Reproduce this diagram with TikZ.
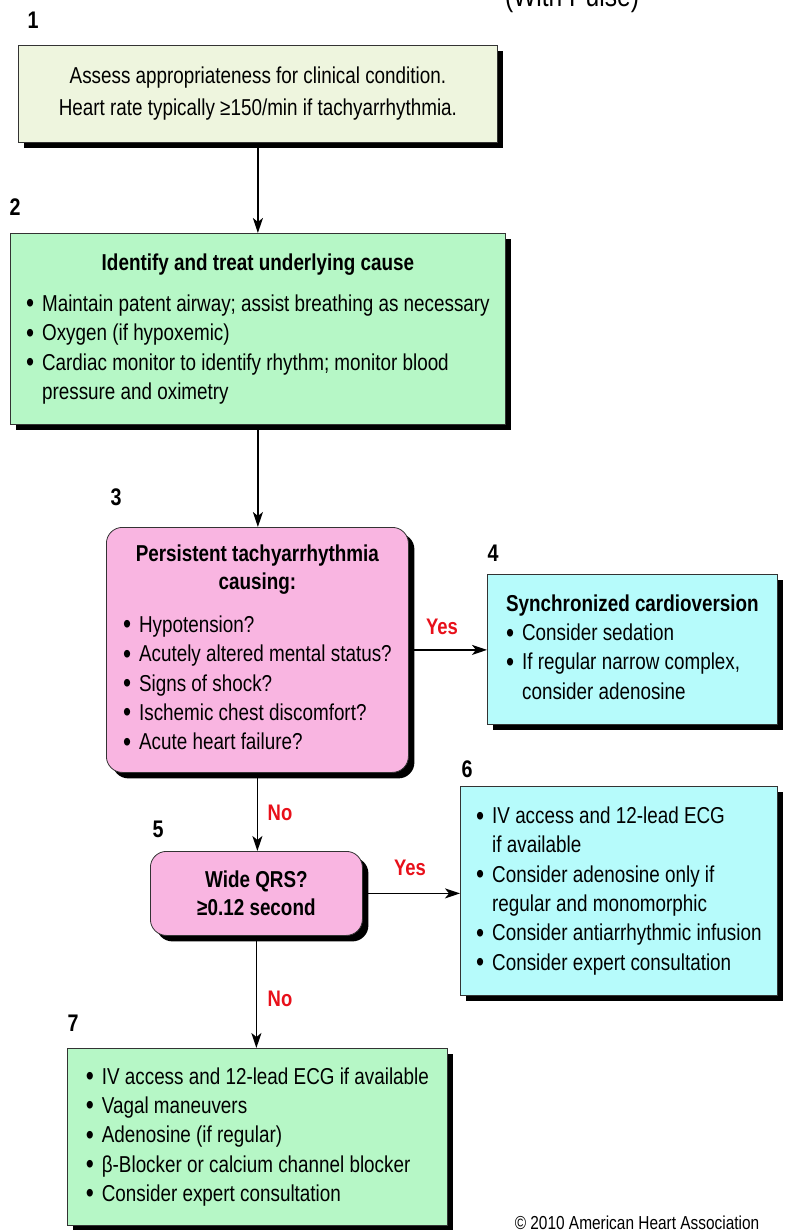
\documentclass[tikz,border=0pt]{standalone}
\usepackage{fontspec}
\setmainfont{Liberation Sans}[FakeStretch=0.82]
\usetikzlibrary{arrows.meta,shadows}
\definecolor{cyellow}{HTML}{EEF5DE}
\definecolor{cgreen}{HTML}{B6F7C6}
\definecolor{cpink}{HTML}{F9B5E1}
\definecolor{ccyan}{HTML}{B6FBFB}
\definecolor{cred}{HTML}{E8101A}
\newcommand\bl{\makebox[16pt][l]{\raisebox{-1.5pt}{\fontsize{28}{28}\selectfont\textbullet}}}
\newcommand\cl{\hspace*{16pt}}
\newcommand\ttl[1]{\multicolumn{1}{@{}c@{}}{\bfseries #1}}
\begin{document}
\begin{tikzpicture}[x=1pt,y=-1pt,
  box/.style={draw=black!80, line width=0.8pt,
    drop shadow={shadow xshift=6pt,shadow yshift=-6pt,opacity=1,fill=black},
    inner xsep=0pt, inner ysep=0pt, anchor=north west,
    font=\fontsize{23}{29.3}\selectfont},
  num/.style={font=\fontsize{24}{26}\selectfont\bfseries},
  lbl/.style={font=\fontsize{22.5}{24}\selectfont\bfseries, text=cred},
  arr/.style={line width=1.8pt, -{Stealth[length=15pt,width=10pt,inset=4pt]}}]
\useasboundingbox (0,0) rectangle (785,1230);

\node[font=\fontsize{30}{32}\selectfont, anchor=base] (title) at (572,7) {(With Pulse)};

\node[num] (n1) at (33,20) {1};
\node[box, fill=cyellow, minimum width=479pt, minimum height=97pt, align=center] (b1) at (18,45)
  {Assess appropriateness for clinical condition.\\[3pt]
   Heart rate typically ≥150/min if tachyarrhythmia.};

\node[num] (n2) at (15,207) {2};
\node[box, fill=cgreen, minimum width=495pt, minimum height=191pt] (b2) at (10,233)
  {\begin{tabular}{@{}l@{}}
   \ttl{Identify and treat underlying cause}\\[12pt]
   \bl Maintain patent airway; assist breathing as necessary\\
   \bl Oxygen (if hypoxemic)\\
   \bl Cardiac monitor to identify rhythm; monitor blood\\
   \cl pressure and oximetry
   \end{tabular}};

\node[num] (n3) at (116,497) {3};
\node[box, fill=cpink, rounded corners=16pt, minimum width=302pt, minimum height=245pt] (b3) at (106,527)
  {\begin{tabular}{@{}l@{}}
   \ttl{Persistent tachyarrhythmia}\\[-2pt]
   \ttl{causing:}\\[14pt]
   \bl Hypotension?\\
   \bl Acutely altered mental status?\\
   \bl Signs of shock?\\
   \bl Ischemic chest discomfort?\\
   \bl Acute heart failure?
   \end{tabular}};

\node[num] (n4) at (493,553) {4};
\node[box, fill=ccyan, minimum width=290pt, minimum height=150pt] (b4) at (487,574)
  {\begin{tabular}{@{}l@{}}
   \ttl{Synchronized cardioversion}\\
   \bl Consider sedation\\
   \bl If regular narrow complex,\\
   \cl consider adenosine
   \end{tabular}};

\node[num] (n5) at (158,829) {5};
\node[box, fill=cpink, rounded corners=16pt, minimum width=212pt, minimum height=84pt, align=center,
  font=\fontsize{23}{28}\selectfont\bfseries] (b5) at (150,851)
  {Wide QRS?\\ ≥0.12 second};

\node[num] (n6) at (467,769) {6};
\node[box, fill=ccyan, minimum width=317pt, minimum height=209pt] (b6) at (460,786)
  {\begin{tabular}{@{}l@{}}
   \bl IV access and 12-lead ECG\\
   \cl if available\\
   \bl Consider adenosine only if\\
   \cl regular and monomorphic\\
   \bl Consider antiarrhythmic infusion\\
   \bl Consider expert consultation
   \end{tabular}};

\node[num] (n7) at (73,1023) {7};
\node[box, fill=cgreen, minimum width=380pt, minimum height=177pt] (b7) at (67,1048)
  {\begin{tabular}{@{}l@{}}
   \bl IV access and 12-lead ECG if available\\
   \bl Vagal maneuvers\\
   \bl Adenosine (if regular)\\
   \bl β-Blocker or calcium channel blocker\\
   \bl Consider expert consultation
   \end{tabular}};

\draw[arr] (b1.south) -- (b1.south |- b2.north);
\draw[arr] (b2.south) -- (b2.south |- b3.north);
\draw[arr] (b3.east) -- (b3.east -| b4.west);
\draw[arr] (b3.south) -- (b3.south |- b5.north);
\draw[arr] (b5.east) -- (b5.east -| b6.west);
\draw[arr] (b5.south) -- (b5.south |- b7.north);

\node[lbl] (y1) at (442,627) {Yes};
\node[lbl] (no1) at (280,813) {No};
\node[lbl] (y2) at (410,868) {Yes};
\node[lbl] (no2) at (280,999) {No};

\node[font=\fontsize{18.8}{20}\selectfont, anchor=base] (copy) at (637,1229) {© 2010 American Heart Association};
\end{tikzpicture}
\end{document}
